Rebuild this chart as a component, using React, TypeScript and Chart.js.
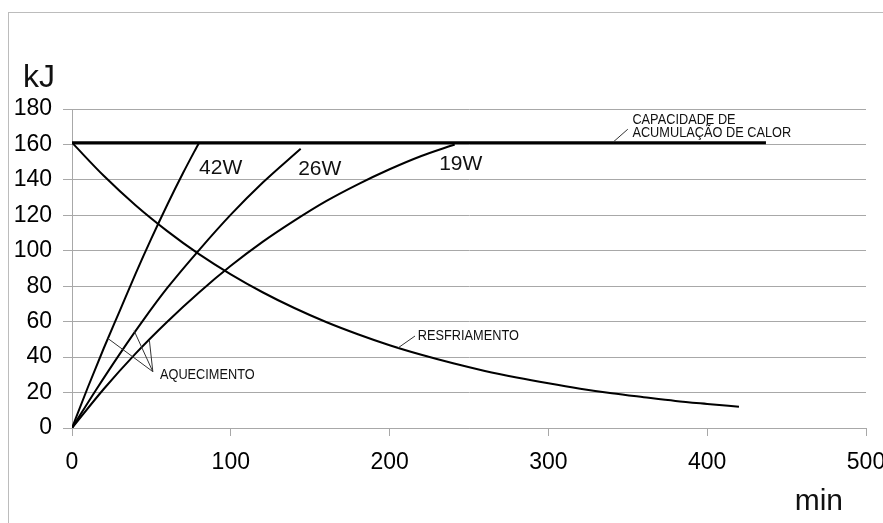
import { useEffect, useRef } from "react";
import { Chart, registerables } from "chart.js";

Chart.register(...registerables);

// ---- data (minutes -> kJ) ----
const heat42Time = [0, 10, 20, 30, 40, 50, 60, 70, 80];
const heat42Energy = [0, 23, 45, 66, 87, 107, 126, 144, 161];

const heat26Time = [0, 15, 30, 45, 60, 80, 100, 120, 144];
const heat26Energy = [0, 21.3, 41.7, 61, 79, 100.4, 120.4, 138.4, 157.6];

const heat19Time = [0, 20, 40, 60, 80, 100, 120, 140, 160, 180, 200, 220, 241];
const heat19Energy = [0, 22, 42, 60, 76.5, 91.5, 105, 117, 128, 137.5, 146, 153.5, 160];

const coolTime = [0, 20, 40, 60, 80, 100, 120, 140, 160, 180, 200, 220, 240, 260, 280, 300, 320, 340, 360, 380, 400, 420];
const coolEnergy = [161, 142.3, 125.7, 111.1, 98.1, 86.7, 76.6, 67.7, 59.8, 52.9, 46.7, 41.3, 36.5, 32.2, 28.5, 25.2, 22.2, 19.6, 17.4, 15.3, 13.6, 12.0];

const capacityTime = [0, 437];
const capacityEnergy = [161, 161];

const xTickValues = [0, 100, 200, 300, 400, 500];
const yTickValues = [0, 20, 40, 60, 80, 100, 120, 140, 160, 180];

const seriesLabels = ["42W", "26W", "19W", "RESFRIAMENTO", "CAPACIDADE DE ACUMULAÇÃO DE CALOR"];
const capacityLines = ["CAPACIDADE DE", "ACUMULAÇÃO DE CALOR"];
const heatingLabel = "AQUECIMENTO";
const coolingLabel = "RESFRIAMENTO";
const yAxisTitle = "kJ";
const xAxisTitle = "min";

const FONT = "'Liberation Sans', Arial, sans-serif";
const GRID = "#a8a8a8";

const toPoints = (xs: number[], ys: number[]) => xs.map((x, i) => ({ x, y: ys[i] }));

const annotationPlugin = {
  id: "annotations",
  afterDatasetsDraw(chart: any) {
    const { ctx, chartArea } = chart;
    const xs = chart.scales.x;
    const ys = chart.scales.y;
    const px = (t: number) => xs.getPixelForValue(t);
    const py = (v: number) => ys.getPixelForValue(v);
    ctx.save();

    // leader lines
    ctx.strokeStyle = "#333";
    ctx.lineWidth = 1;
    const seg = (a: number, b: number, c: number, d: number) => {
      ctx.beginPath();
      ctx.moveTo(px(a), py(b));
      ctx.lineTo(px(c), py(d));
      ctx.stroke();
    };
    seg(341, 161.5, 350, 168.6); // capacity
    seg(205, 45, 216, 51.9); // cooling
    seg(50.9, 31.8, 22.5, 50.6); // heating -> 42W
    seg(50.9, 31.8, 39.1, 54.9); // heating -> 26W
    seg(50.9, 31.8, 48.7, 49.7); // heating -> 19W

    ctx.fillStyle = "#111";
    ctx.textBaseline = "alphabetic";
    ctx.textAlign = "left";

    // condensed small captions
    const narrow = (text: string, t: number, v: number) => {
      ctx.save();
      ctx.translate(px(t), py(v));
      ctx.scale(0.85, 1);
      ctx.font = `15px ${FONT}`;
      ctx.fillText(text, 0, 0);
      ctx.restore();
    };
    narrow(capacityLines[0], 352.9, 171.7);
    narrow(capacityLines[1], 352.9, 164.0);
    narrow(coolingLabel, 217.8, 49.7);
    narrow(heatingLabel, 55.4, 27.7);

    // power labels
    ctx.font = `21px ${FONT}`;
    ctx.fillText(seriesLabels[0], px(80), py(143.3));
    ctx.fillText(seriesLabels[1], px(142.4), py(142.8));
    ctx.fillText(seriesLabels[2], px(231.2), py(145.6));

    // axis titles
    ctx.font = `32px ${FONT}`;
    ctx.fillText(yAxisTitle, chartArea.left - 49, chartArea.top - 22);
    ctx.textAlign = "right";
    ctx.font = `30px ${FONT}`;
    ctx.fillText(xAxisTitle, chartArea.right - 23, chartArea.bottom + 82);
    ctx.restore();
  },
};

export default function App() {
  const ref = useRef<HTMLCanvasElement>(null);

  useEffect(() => {
    if (!ref.current) return;
    const line = (label: string, xs: number[], ys: number[], width: number) => ({
      label,
      data: toPoints(xs, ys),
      showLine: true,
      borderColor: "#000",
      backgroundColor: "#000",
      borderWidth: width,
      pointRadius: 0,
      cubicInterpolationMode: "monotone" as const,
      fill: false,
    });
    const chart = new Chart(ref.current, {
      type: "scatter",
      data: {
        datasets: [
          line(seriesLabels[0], heat42Time, heat42Energy, 2),
          line(seriesLabels[1], heat26Time, heat26Energy, 2),
          line(seriesLabels[2], heat19Time, heat19Energy, 2),
          line(seriesLabels[3], coolTime, coolEnergy, 2),
          line(seriesLabels[4], capacityTime, capacityEnergy, 3),
        ],
      },
      options: {
        animation: false,
        responsive: false,
        events: [],
        layout: { padding: { left: 0, top: 109, right: 44, bottom: 0 } },
        plugins: { legend: { display: false }, tooltip: { enabled: false } },
        scales: {
          x: {
            type: "linear",
            min: 0,
            max: 500,
            afterBuildTicks: (s: any) => {
              s.ticks = xTickValues.map((v) => ({ value: v }));
            },
            afterFit: (s: any) => {
              s.height = 95;
            },
            ticks: {
              color: "#000",
              font: { family: FONT, size: 23 },
              padding: 13,
              maxRotation: 0,
              autoSkip: false,
            },
            grid: { drawOnChartArea: false, drawTicks: true, tickLength: 8, color: GRID },
            border: { display: true, color: GRID, width: 1 },
          },
          y: {
            type: "linear",
            min: 0,
            max: 180,
            afterBuildTicks: (s: any) => {
              s.ticks = yTickValues.map((v) => ({ value: v }));
            },
            afterFit: (s: any) => {
              s.width = 72;
            },
            ticks: {
              color: "#000",
              font: { family: FONT, size: 23 },
              padding: 11,
              autoSkip: false,
            },
            grid: { color: GRID, tickLength: 9, drawTicks: true },
            border: { display: true, color: GRID, width: 1 },
          },
        },
      },
      plugins: [annotationPlugin],
    });
    return () => chart.destroy();
  }, []);

  return (
    <div
      style={{
        position: "fixed",
        left: 0,
        top: 0,
        width: 883,
        height: 523,
        overflow: "hidden",
        background: "#fff",
      }}
    >
      <div
        style={{
          position: "absolute",
          left: 8,
          top: 12,
          width: 2000,
          height: 2000,
          borderLeft: "1px solid #bcbcbc",
          borderTop: "1px solid #bcbcbc",
        }}
      />
      <canvas
        ref={ref}
        width={910}
        height={523}
        style={{ position: "absolute", left: 0, top: 0, width: 910, height: 523 }}
      />
    </div>
  );
}
